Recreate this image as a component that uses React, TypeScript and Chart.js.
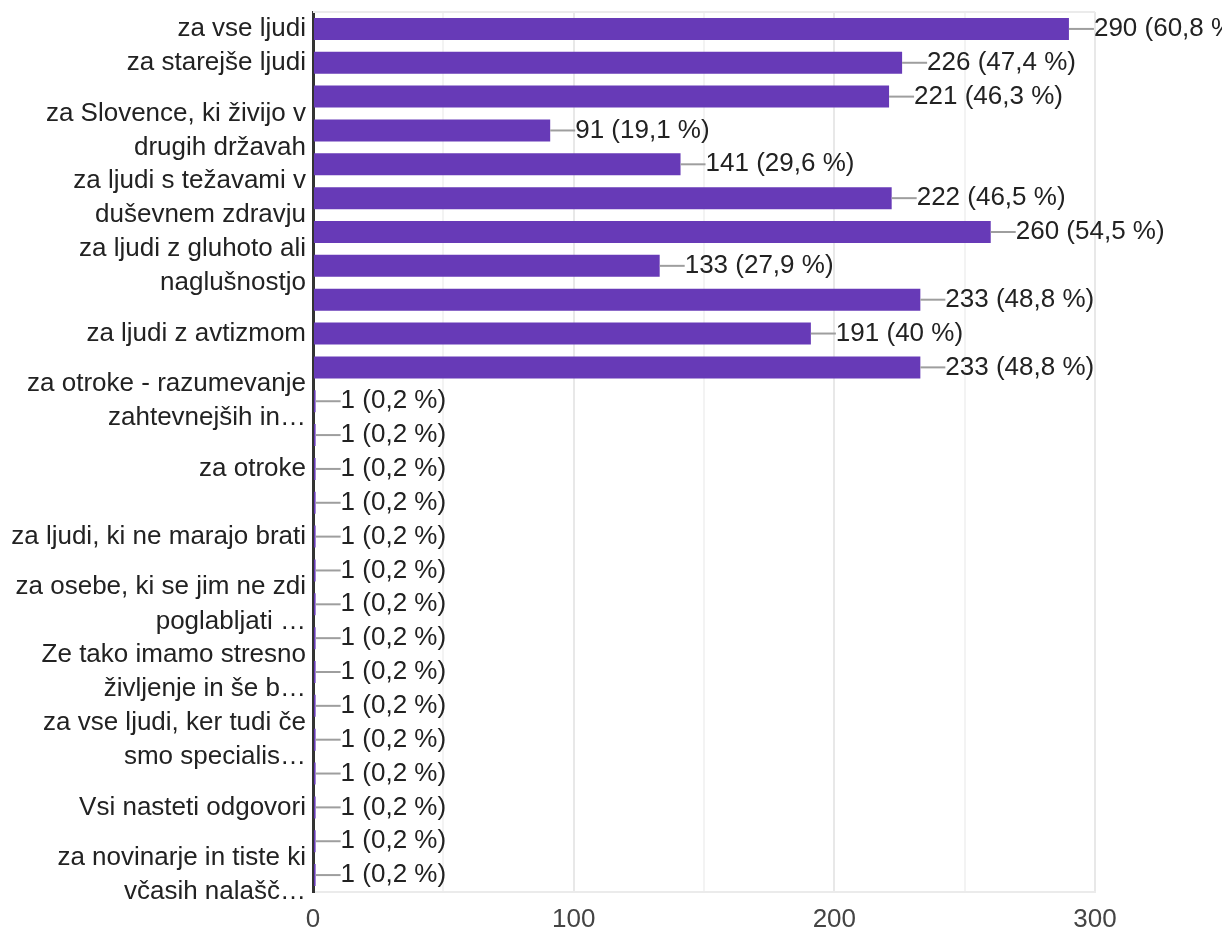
import React, { useEffect, useRef } from "react";
import { Chart, registerables } from "chart.js";

Chart.register(...registerables);

const categories: string[][] = [
  ["za vse ljudi"],
  ["za starejše ljudi"],
  [],
  ["za Slovence, ki živijo v", "drugih državah"],
  [],
  ["za ljudi s težavami v", "duševnem zdravju"],
  [],
  ["za ljudi z gluhoto ali", "naglušnostjo"],
  [],
  ["za ljudi z avtizmom"],
  [],
  ["za otroke - razumevanje", "zahtevnejših in…"],
  [],
  ["za otroke"],
  [],
  ["za ljudi, ki ne marajo brati"],
  [],
  ["za osebe, ki se jim ne zdi", "poglabljati …"],
  [],
  ["Ze tako imamo stresno", "življenje in še b…"],
  [],
  ["za vse ljudi, ker tudi če", "smo specialis…"],
  [],
  ["Vsi nasteti odgovori"],
  [],
  ["za novinarje in tiste ki", "včasih nalašč…"],
];

const counts: number[] = [
  290, 226, 221, 91, 141, 222, 260, 133, 233, 191, 233,
  1, 1, 1, 1, 1, 1, 1, 1, 1, 1, 1, 1, 1, 1, 1,
];

const percents: string[] = [
  "60,8", "47,4", "46,3", "19,1", "29,6", "46,5", "54,5", "27,9", "48,8", "40", "48,8",
  "0,2", "0,2", "0,2", "0,2", "0,2", "0,2", "0,2", "0,2", "0,2", "0,2", "0,2", "0,2", "0,2", "0,2", "0,2",
];

const xTicks: number[] = [0, 100, 200, 300];

const FONT = "'Liberation Sans', Arial, sans-serif";

const valueLabels = {
  id: "valueLabels",
  afterDatasetsDraw(chart: any) {
    const ctx = chart.ctx;
    const meta = chart.getDatasetMeta(0);
    ctx.save();
    meta.data.forEach((bar: any, i: number) => {
      const x = bar.x;
      const y = bar.y;
      ctx.strokeStyle = "#9e9e9e";
      ctx.lineWidth = 2;
      ctx.beginPath();
      ctx.moveTo(x, y);
      ctx.lineTo(x + 25, y);
      ctx.stroke();
      ctx.fillStyle = "#222222";
      ctx.font = `26px ${FONT}`;
      ctx.textAlign = "left";
      ctx.textBaseline = "middle";
      ctx.fillText(`${counts[i]} (${percents[i]} %)`, x + 25, y);
    });
    ctx.restore();
  },
};

const frame = {
  id: "frame",
  beforeDatasetsDraw(chart: any) {
    const { ctx, chartArea } = chart;
    ctx.save();
    ctx.strokeStyle = "#ebebeb";
    ctx.lineWidth = 2;
    ctx.beginPath();
    ctx.moveTo(chartArea.left, chartArea.top);
    ctx.lineTo(chartArea.right, chartArea.top);
    ctx.stroke();
    ctx.restore();
  },
};

export default function App() {
  const ref = useRef<HTMLCanvasElement | null>(null);
  useEffect(() => {
    document.documentElement.style.overflow = "hidden";
    if (!ref.current) return;
    const chart = new Chart(ref.current, {
      type: "bar",
      data: {
        labels: categories.map((c, i) => String(i)),
        datasets: [
          {
            data: counts,
            backgroundColor: "#673ab7",
            borderWidth: 0,
            barPercentage: 0.65,
            categoryPercentage: 1,
          },
        ],
      },
      options: {
        indexAxis: "y",
        animation: false,
        responsive: true,
        maintainAspectRatio: false,
        layout: { padding: { top: 4, right: 127, left: 0, bottom: 0 } },
        plugins: {
          legend: { display: false },
          tooltip: { enabled: false },
        },
        scales: {
          x: {
            min: 0,
            max: 300,
            ticks: {
              stepSize: 50,
              padding: 12,
              color: "#444444",
              maxRotation: 0,
              font: { family: FONT, size: 26 },
              callback: (v: any) => (xTicks.includes(Number(v)) ? String(v) : ""),
            },
            grid: {
              drawTicks: false,
              lineWidth: 2,
              color: (c: any) => (c.tick && c.tick.value % 100 === 0 ? "#e8e8e8" : "#f3f3f3"),
            },
            border: { display: true, color: "#ebebeb", width: 2 },
            afterFit: (s: any) => {
              s.height = 41;
              s.paddingLeft = 0;
              s.paddingRight = 0;
            },
          },
          y: {
            ticks: {
              autoSkip: false,
              padding: 7,
              color: "#222222",
              font: { family: FONT, size: 26, lineHeight: 1.31 },
              callback: (_v: any, i: number) => {
                const c = categories[i];
                if (!c || c.length === 0) return "";
                return c.length === 1 ? c[0] : c;
              },
            },
            grid: { display: false, drawTicks: false },
            border: { display: true, color: "#333333", width: 3 },
            afterFit: (s: any) => {
              s.width = 305;
              s.paddingTop = 0;
              s.paddingBottom = 0;
            },
          },
        },
      },
      plugins: [frame, valueLabels],
    });
    return () => chart.destroy();
  }, []);
  return (
    <div style={{ width: 1214, height: 925, position: "relative" }}>
      <canvas ref={ref} />
    </div>
  );
}
